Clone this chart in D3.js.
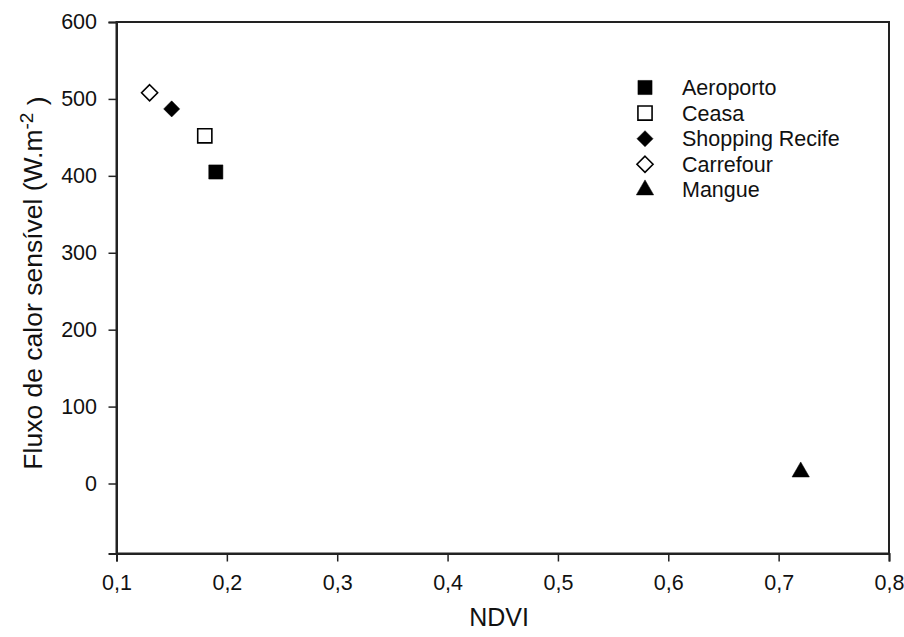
<!DOCTYPE html>
<html><head><meta charset="utf-8">
<script src="https://cdn.jsdelivr.net/npm/d3@7"></script>
<style>body{margin:0;background:#fff}svg{display:block}text{font-family:"Liberation Sans",Arial,sans-serif;fill:#111}</style>
</head><body><svg id="c" width="904" height="637"></svg>
<script>
const sites = ["Aeroporto","Ceasa","Shopping Recife","Carrefour","Mangue"];
const ndvi = [0.19, 0.18, 0.15, 0.13, 0.72];
const fluxo = [405, 452, 487, 508, 15];
const shapes = ["square","square","diamond","diamond","triangle"];
const filled = [true, false, true, false, true];
const xTicks = [0.1,0.2,0.3,0.4,0.5,0.6,0.7,0.8];
const yTicks = [0,100,200,300,400,500,600];

const svg = d3.select("#c");
const L=116.5, R=889, T=22, B=553.5;
const x = d3.scaleLinear().domain([0.1,0.8]).range([L,R]);
const y = d3.scaleLinear().domain([-91,600]).range([B,T]);
const fmt = d => d3.format(".1f")(d).replace(".",",");

// frame
svg.append("rect").attr("x",L).attr("y",T).attr("width",R-L).attr("height",B-T)
  .attr("fill","none").attr("stroke","#222").attr("stroke-width",2);

const gx = svg.append("g").attr("transform",`translate(0,${B})`)
  .call(d3.axisBottom(x).tickValues(xTicks).tickFormat(fmt).tickSize(8).tickPadding(13));
const gy = svg.append("g").attr("transform",`translate(${L},0)`)
  .call(d3.axisLeft(y).tickValues(yTicks).tickSize(8).tickPadding(11.5));
[gx,gy].forEach(g=>{
  g.select(".domain").attr("stroke","#222").attr("stroke-width",2);
  g.selectAll(".tick line").attr("stroke","#222").attr("stroke-width",1.5);
  g.selectAll("text").style("font-size","21.5px").attr("fill","#111")
   .style("font-family",'"Liberation Sans",Arial,sans-serif');
});

const sym = {
  square: d3.symbol().type(d3.symbolSquare).size(200),
  diamond: d3.symbol().type(d3.symbolDiamond2).size(165),
  triangle: d3.symbol().type(d3.symbolTriangle).size(130)
};
function draw(g, i, cx, cy){
  g.append("path").attr("d", sym[shapes[i]]())
   .attr("transform",`translate(${cx},${cy})`)
   .attr("fill", filled[i] ? "#000" : "#fff")
   .attr("stroke","#000").attr("stroke-width", filled[i]?0.5:1.6);
}
const pts = svg.append("g");
sites.forEach((s,i)=> draw(pts, i, x(ndvi[i]), y(fluxo[i])));

// legend
const lg = svg.append("g");
sites.forEach((s,i)=>{
  const yy = 87.5 + i*25.6;
  draw(lg, i, 645, yy);
  lg.append("text").attr("x",682).attr("y",yy).attr("dy","0.35em")
    .style("font-size","21.5px").text(s);
});

// axis titles
svg.append("text").attr("x",499).attr("y",626).attr("text-anchor","middle")
  .style("font-size","25px").text("NDVI");
const yt = svg.append("text").attr("transform",`translate(42,283) rotate(-90)`)
  .attr("text-anchor","middle").style("font-size","26.5px");
yt.append("tspan").text("Fluxo de calor sensível (W.m");
yt.append("tspan").attr("dy","-0.5em").style("font-size","19px").text("-2");
yt.append("tspan").attr("dy","0.5em").text(" )");
</script></body></html>
